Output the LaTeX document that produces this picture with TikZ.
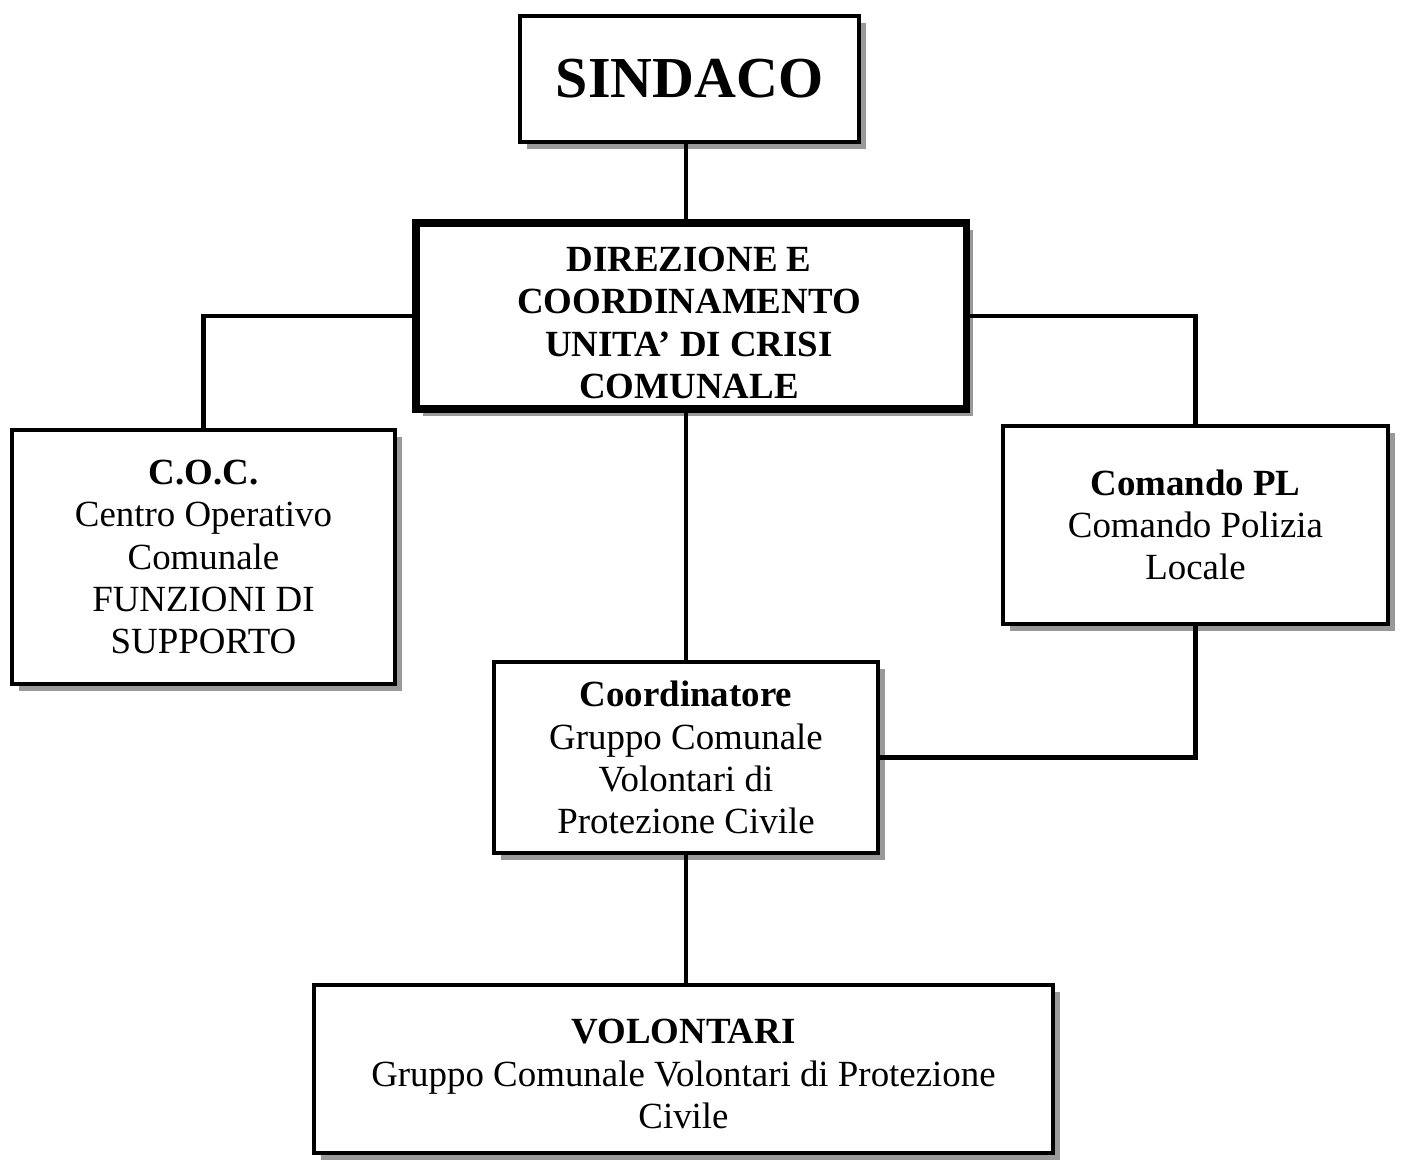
\documentclass[tikz,border=0pt]{standalone}
\usepackage{fontspec}
\setmainfont{Liberation Serif}
\usetikzlibrary{shadows}
\begin{document}
\begin{tikzpicture}[x=0.02cm,y=-0.02cm,
  box/.style={draw, line width=2.3pt, fill=white, rectangle, align=center, inner sep=0pt,
    font=\fontsize{21}{24}\selectfont,
    drop shadow={shadow xshift=3.8pt, shadow yshift=-3.8pt, fill=black!40, opacity=1}},
  txt/.style={align=center, inner sep=0pt, font=\fontsize{21}{24}\selectfont},
  link/.style={line width=2.8pt, line cap=rect}]
\useasboundingbox (0,0) rectangle (1402,1164);
\node[box, minimum width=339*0.02cm, minimum height=126*0.02cm,
  font=\fontsize{33}{36}\selectfont\bfseries] (sind) at (689.5,79) {SINDACO};
\node[box, line width=4pt, minimum width=550*0.02cm, minimum height=186*0.02cm] (dir) at (691,316) {};
\node[txt, font=\fontsize{21}{24}\selectfont\bfseries] (dirtext) at (689,323)
  {DIREZIONE E\\COORDINAMENTO\\UNITA’ DI CRISI\\COMUNALE};
\node[box, minimum width=383*0.02cm, minimum height=254*0.02cm] (coc) at (203.5,557)
  {\textbf{C.O.C.}\\Centro Operativo\\Comunale\\FUNZIONI DI\\SUPPORTO};
\node[box, minimum width=385*0.02cm, minimum height=198*0.02cm] (pl) at (1195.5,525)
  {\textbf{Comando PL}\\Comando Polizia\\Locale};
\node[box, minimum width=384*0.02cm, minimum height=191*0.02cm] (coord) at (686,757.5)
  {\textbf{Coordinatore}\\Gruppo Comunale\\Volontari di\\Protezione Civile};
\node[box, minimum width=739*0.02cm, minimum height=168*0.02cm] (vol) at (683.5,1069) {};
\node[txt] (voltext) at (683.5,1074)
  {\textbf{VOLONTARI}\\Gruppo Comunale Volontari di Protezione\\Civile};
\draw[link] (coord.north |- sind.south) -- (coord.north |- dir.north);
\draw[link] (dir.west) -| (coc.north);
\draw[link] (dir.east) -| (pl.north);
\draw[link] (coord.north |- dir.south) -- (coord.north);
\draw[link] (pl.south) |- (coord.east);
\draw[link] (coord.south) -- (vol.north -| coord.south);
\end{tikzpicture}
\end{document}
